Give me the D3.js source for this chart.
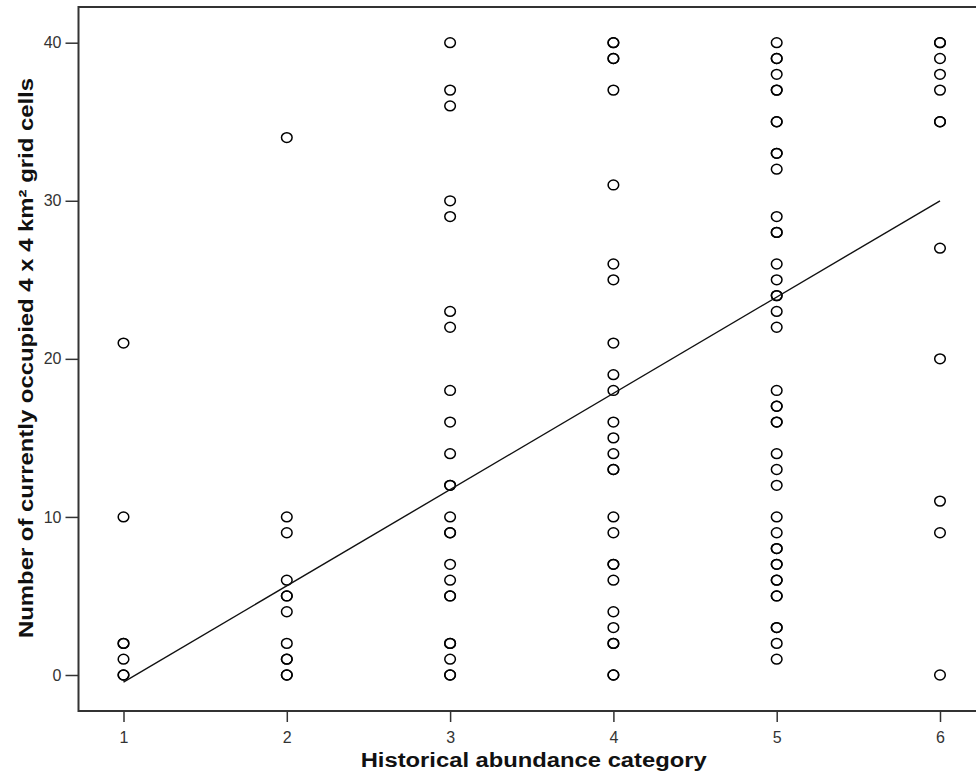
<!DOCTYPE html>
<html>
<head>
<meta charset="utf-8">
<script src="https://cdn.jsdelivr.net/npm/d3@7"></script>
<style>
  body { margin: 0; background: #fff; }
  text { font-family: "Liberation Sans", Arial, sans-serif; }
</style>
</head>
<body>
<div id="chart"></div>
<script>
(function () {

    // values, one list per abundance category
    // (repeated values = the darker, overplotted circles)
    var categories = [1, 2, 3, 4, 5, 6];
    var cat1 = [21, 10, 2, 2, 1, 0, 0];
    var cat2 = [34, 10, 9, 6, 5, 5, 4, 2, 1, 1, 0, 0];
    var cat3 = [40, 37, 36, 30, 29, 23, 22, 18, 16, 14, 12, 12, 10, 9, 9, 7, 6, 5, 5, 2, 2, 1, 0, 0];
    var cat4 = [40, 40, 39, 39, 37, 31, 26, 25, 21, 19, 18, 16, 15, 14, 13, 13, 10, 9, 7, 7, 6, 4, 3, 2, 2, 0, 0];
    var cat5 = [40, 39, 39, 38, 37, 37, 35, 35, 33, 33, 32, 29, 28, 28, 26, 25, 24, 24, 23, 22,
                18, 17, 17, 16, 16, 14, 13, 12, 10, 9, 8, 8, 7, 7, 6, 6, 5, 5, 3, 3, 2, 1];
    var cat6 = [40, 40, 39, 38, 37, 35, 35, 27, 20, 11, 9, 0];
    var columns = [cat1, cat2, cat3, cat4, cat5, cat6];

    // fit line end points (category, cells)
    var fitLine = [[1, -0.45], [6, 30]];

    var yTicks = [0, 10, 20, 30, 40];

    var width = 976,
        height = 780,
        left = 78.5,
        top = 7,
        bottom = 711;

    var x = d3.scaleLinear().domain([1, 6]).range([123.5, 940]),
        y = d3.scaleLinear().domain([0, 40]).range([675, 42.7]);

    var points = [];
    columns.forEach(function (vals, i) {
        vals.forEach(function (v) {
            points.push({cat: categories[i], val: v});
        });
    });

    var svg = d3.select('#chart').append('svg')
            .attr('width', width)
            .attr('height', height);

    svg.append('rect')
        .attr('width', width)
        .attr('height', height)
        .style('fill', '#fff');

    // axes (no domain line, the frame is drawn on its own)
    var yAxis = svg.append('g')
        .attr('transform', 'translate(' + left + ',0)')
        .call(d3.axisLeft(y).tickValues(yTicks).tickSize(13).tickPadding(4));

    var xAxis = svg.append('g')
        .attr('transform', 'translate(0,' + bottom + ')')
        .call(d3.axisBottom(x).tickValues(categories).tickSize(11).tickPadding(10)
              .tickFormat(d3.format('d')));

    [yAxis, xAxis].forEach(function (g) {
        g.select('.domain').remove();
        g.selectAll('line').style('stroke', '#333').style('stroke-width', '1.5px');
        g.selectAll('text')
            .style('font-size', '16px')
            .style('fill', '#333')
            .style('font-family', '"Liberation Sans Narrow", "Liberation Sans", Arial, sans-serif');
    });

    // frame: left, top, bottom (right side runs off the picture)
    svg.append('path')
        .attr('d', 'M' + (width + 5) + ',' + top + 'H' + left + 'V' + bottom + 'H' + (width + 5))
        .style('fill', 'none')
        .style('stroke', '#333')
        .style('stroke-width', '2px');

    svg.append('g').selectAll('ellipse')
        .data(points)
        .enter()
        .append('ellipse')
        .attr('cx', function (d) {return x(d.cat);})
        .attr('cy', function (d) {return y(d.val);})
        .attr('rx', 5.3)
        .attr('ry', 4.9)
        .style('fill', 'none')
        .style('stroke', '#000')
        .style('stroke-width', '1.5px');

    svg.append('path')
        .datum(fitLine)
        .attr('d', d3.line()
            .x(function (d) {return x(d[0]);})
            .y(function (d) {return y(d[1]);}))
        .style('fill', 'none')
        .style('stroke', '#111')
        .style('stroke-width', '1.4px');

    svg.append('text')
        .text('Historical abundance category')
        .attr('x', 533.7)
        .attr('y', 766.7)
        .attr('textLength', 346)
        .attr('lengthAdjust', 'spacingAndGlyphs')
        .style('text-anchor', 'middle')
        .style('font-size', '20px')
        .style('font-weight', 'bold')
        .style('fill', '#111');

    svg.append('text')
        .text('Number of currently occupied 4 x 4 km\u00b2 grid cells')
        .attr('transform', 'translate(33,358) rotate(-90)')
        .attr('textLength', 560)
        .attr('lengthAdjust', 'spacingAndGlyphs')
        .style('text-anchor', 'middle')
        .style('font-size', '20px')
        .style('font-weight', 'bold')
        .style('fill', '#111');
}());
</script>
</body>
</html>
